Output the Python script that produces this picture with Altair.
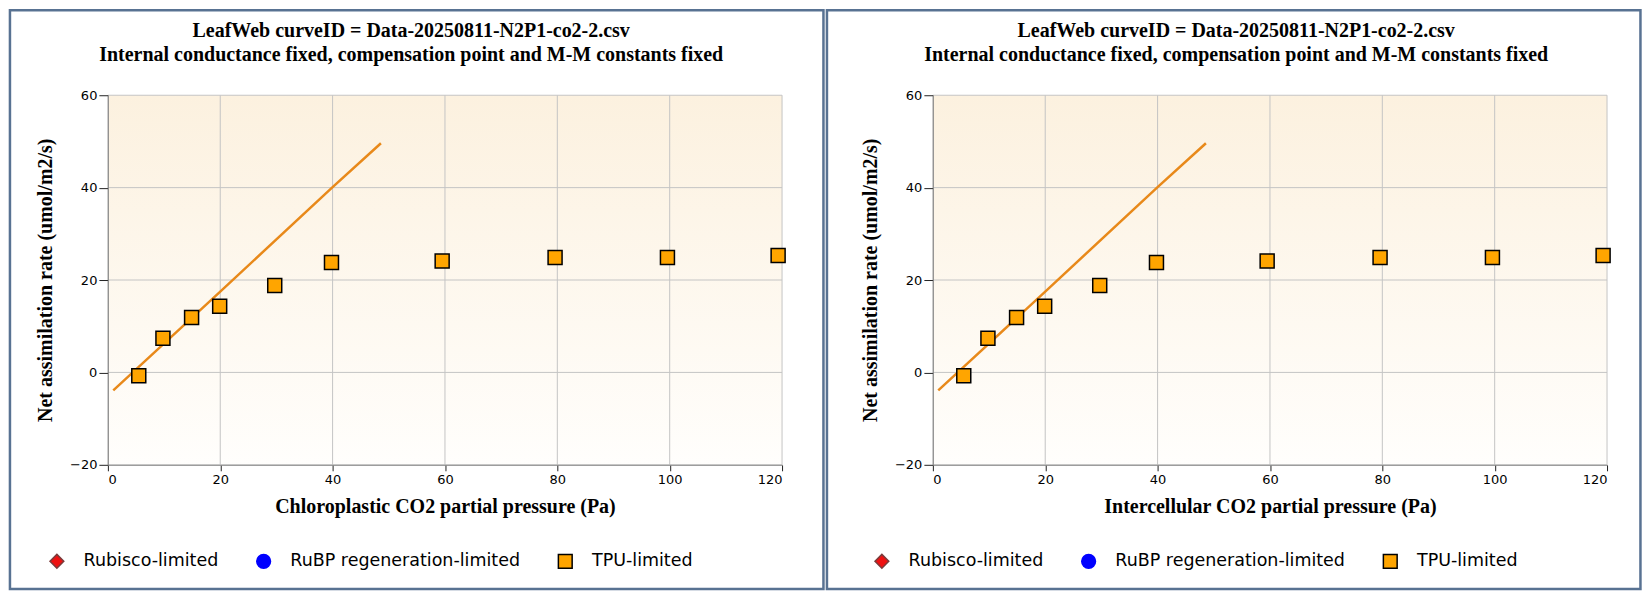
import altair as alt
import pandas as pd

# ---------------- data ----------------
ci = [5.5, 9.8, 14.9, 19.9, 29.7, 39.8, 59.5, 79.6, 99.6, 119.3]
anet = [-0.7, 7.4, 11.9, 14.3, 18.8, 23.8, 24.1, 24.9, 24.9, 25.3]
limitation = ["TPU-limited"] * 10

model_x = [0.96, 20.0, 40.0, 48.6]
model_y = [-3.9, 17.5, 40.1, 49.6]

x_ticks = [0, 20, 40, 60, 80, 100, 120]
y_ticks = [-20, 0, 20, 40, 60]

categories = ["Rubisco-limited", "RuBP regeneration-limited", "TPU-limited"]
fill_colors = ["#ee1111", "#0000ff", "#ffa500"]
stroke_colors = ["#7a3a3a", "#0000ff", "#000000"]
shapes = ["diamond", "circle", "square"]

title_line1 = "LeafWeb curveID = Data-20250811-N2P1-co2-2.csv"
title_line2 = "Internal conductance fixed, compensation point and M-M constants fixed"
y_title = "Net assimilation rate (umol/m2/s)"
x_titles = ["Chloroplastic CO2 partial pressure (Pa)",
            "Intercellular CO2 partial pressure (Pa)"]

# ---------------- tables ----------------
pts = pd.DataFrame({"x": ci, "y": anet, "lim": limitation})
model = pd.DataFrame({"x": model_x, "y": model_y})
xgrid = pd.DataFrame({"x": x_ticks})
ygrid = pd.DataFrame({"y": y_ticks})
one = pd.DataFrame({"k": [0]})

W, H = 675, 370
SERIF = "Liberation Serif"
SANS = "DejaVu Sans"
SLATE = "#587292"


def X(xt):
    return alt.X("x:Q", title=xt,
                 scale=alt.Scale(domain=[0, 120], nice=False, zero=False),
                 axis=alt.Axis(values=x_ticks, grid=False, tickSize=6, labelPadding=3,
                               titleY=48, titleBaseline="alphabetic", zindex=1))


def Y():
    return alt.Y("y:Q", title=y_title,
                 scale=alt.Scale(domain=[-20, 60], nice=False, zero=False),
                 axis=alt.Axis(values=y_ticks, grid=False, tickSize=9, labelPadding=2,
                               titleX=-62.3, titleY=184.7, titleAlign="center",
                               titleBaseline="middle", titleAngle=270, zindex=1))


def legend():
    return alt.Legend(title=None, orient="none", legendX=-59.8, legendY=457.7,
                      direction="horizontal", columns=3, columnPadding=34,
                      labelOffset=18, symbolSize=190, symbolStrokeWidth=1.5,
                      labelFont=SANS, labelFontSize=17.5, labelColor="#000000",
                      labelLimit=600, padding=0, symbolOpacity=1)


def panel(xt, fl, fr):
    ft, fb = -86.3, 495.7
    frame = alt.Chart(one).mark_rect(color=SLATE).encode(
        x=alt.value(fl), x2=alt.value(fr), y=alt.value(ft), y2=alt.value(fb))
    inner = alt.Chart(one).mark_rect(color="#ffffff").encode(
        x=alt.value(fl + 2.5), x2=alt.value(fr - 2.5), y=alt.value(ft + 2.5), y2=alt.value(fb - 2.5))
    bg = alt.Chart(one).mark_rect(
        fill=alt.LinearGradient(gradient="linear",
                                stops=[alt.GradientStop(color="#fcf1df", offset=0),
                                       alt.GradientStop(color="#fffefc", offset=1)],
                                x1=0, x2=0, y1=0, y2=1)
    ).encode(x=alt.value(0), x2=alt.value(W), y=alt.value(0), y2=alt.value(H))
    vgrid = alt.Chart(xgrid).mark_rule(color="#c4c4c4", strokeWidth=1).encode(x=X(xt))
    hgrid = alt.Chart(ygrid).mark_rule(color="#c4c4c4", strokeWidth=1).encode(y=Y())
    line = alt.Chart(model).mark_line(color="#e8891a", strokeWidth=2.5).encode(x=X(xt), y=Y())
    points = alt.Chart(pts).mark_point(filled=True, opacity=1, size=196, strokeWidth=1.5).encode(
        x=X(xt), y=Y(),
        fill=alt.Fill("lim:N", scale=alt.Scale(domain=categories, range=fill_colors), legend=legend()),
        stroke=alt.Stroke("lim:N", scale=alt.Scale(domain=categories, range=stroke_colors), legend=legend()),
        shape=alt.Shape("lim:N", scale=alt.Scale(domain=categories, range=shapes), legend=legend()),
    )
    t1 = alt.Chart(one).mark_text(font=SERIF, fontSize=20, fontWeight="bold", color="#000000",
                                  align="center", baseline="alphabetic", text=title_line1).encode(
        x=alt.value(303.7), y=alt.value(-58.3))
    t2 = alt.Chart(one).mark_text(font=SERIF, fontSize=20, fontWeight="bold", color="#000000",
                                  align="center", baseline="alphabetic", text=title_line2).encode(
        x=alt.value(303.7), y=alt.value(-34.3))
    return alt.layer(frame, inner, bg, vgrid, hgrid, line, points, t1, t2).properties(width=W, height=H)


left = panel(x_titles[0], -99.3, 717.7)
right = panel(x_titles[1], -107.3, 709.7)

chart = alt.hconcat(left, right, spacing=0).resolve_scale(
    fill="independent", stroke="independent", shape="independent"
).resolve_legend(
    fill="independent", stroke="independent", shape="independent"
).properties(
    padding=0, autosize=alt.AutoSizeParams(type="pad")
).configure_view(strokeWidth=0).configure_axis(
    labelFont=SANS, labelFontSize=13, labelColor="#000000",
    titleFont=SERIF, titleFontSize=20, titleFontWeight="bold", titleColor="#000000",
    domainColor="#888888", tickColor="#222222", domainWidth=1, tickWidth=1
)

chart.save("out.html", embed_options={"renderer": "svg", "actions": False})
